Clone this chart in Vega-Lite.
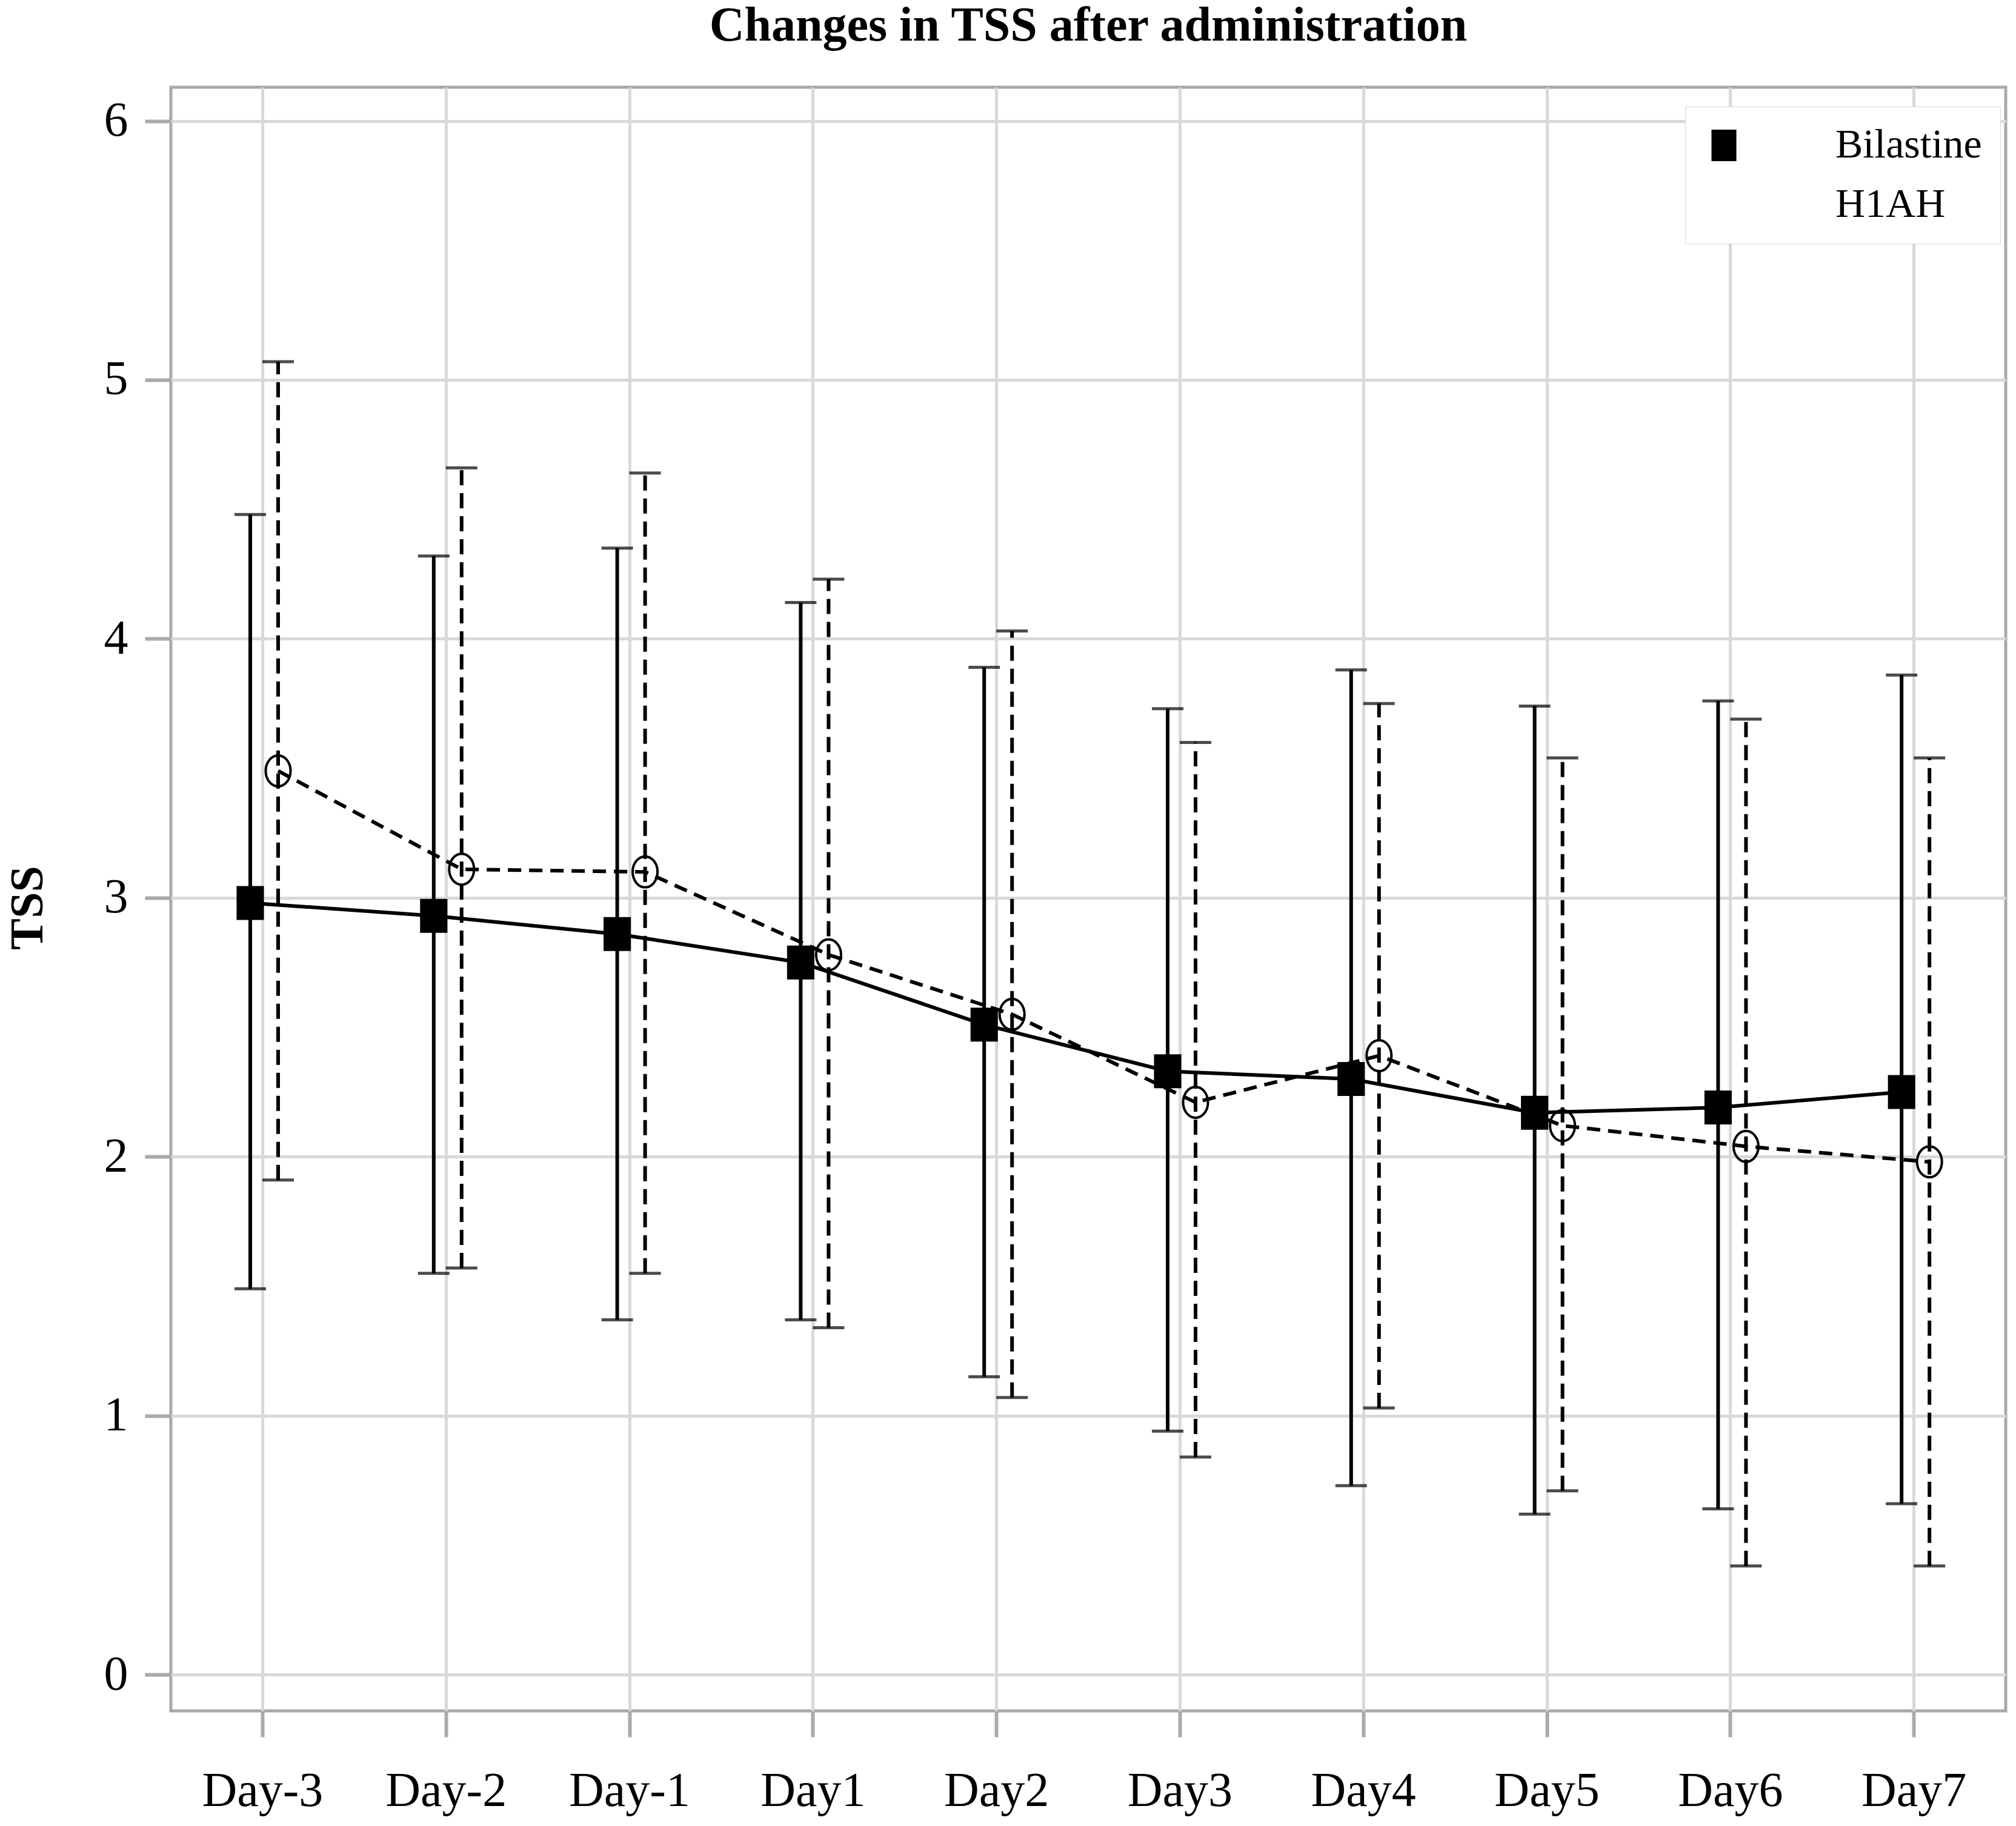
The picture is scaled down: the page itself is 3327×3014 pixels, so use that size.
{
  "$schema": "https://vega.github.io/schema/vega-lite/v6.json",
  "width": 3028,
  "height": 2680,
  "autosize": {"type": "none"},
  "padding": {"left": 282, "top": 144, "right": 17, "bottom": 190},
  "background": "white",
  "title": {
    "text": "Changes in TSS after administration",
    "font": "Liberation Serif",
    "fontSize": 80,
    "fontWeight": "bold",
    "color": "black",
    "anchor": "middle",
    "offset": 60
  },
  "data": {
    "values": [
      {"day": "Day-3", "series": "Bilastine", "mean": 2.98, "lo": 1.49, "hi": 4.48},
      {"day": "Day-2", "series": "Bilastine", "mean": 2.93, "lo": 1.55, "hi": 4.32},
      {"day": "Day-1", "series": "Bilastine", "mean": 2.86, "lo": 1.37, "hi": 4.35},
      {"day": "Day1", "series": "Bilastine", "mean": 2.75, "lo": 1.37, "hi": 4.14},
      {"day": "Day2", "series": "Bilastine", "mean": 2.51, "lo": 1.15, "hi": 3.89},
      {"day": "Day3", "series": "Bilastine", "mean": 2.33, "lo": 0.94, "hi": 3.73},
      {"day": "Day4", "series": "Bilastine", "mean": 2.30, "lo": 0.73, "hi": 3.88},
      {"day": "Day5", "series": "Bilastine", "mean": 2.17, "lo": 0.62, "hi": 3.74},
      {"day": "Day6", "series": "Bilastine", "mean": 2.19, "lo": 0.64, "hi": 3.76},
      {"day": "Day7", "series": "Bilastine", "mean": 2.25, "lo": 0.66, "hi": 3.86},
      {"day": "Day-3", "series": "H1AH", "mean": 3.49, "lo": 1.91, "hi": 5.07},
      {"day": "Day-2", "series": "H1AH", "mean": 3.11, "lo": 1.57, "hi": 4.66},
      {"day": "Day-1", "series": "H1AH", "mean": 3.10, "lo": 1.55, "hi": 4.64},
      {"day": "Day1", "series": "H1AH", "mean": 2.78, "lo": 1.34, "hi": 4.23},
      {"day": "Day2", "series": "H1AH", "mean": 2.55, "lo": 1.07, "hi": 4.03},
      {"day": "Day3", "series": "H1AH", "mean": 2.21, "lo": 0.84, "hi": 3.60},
      {"day": "Day4", "series": "H1AH", "mean": 2.39, "lo": 1.03, "hi": 3.75},
      {"day": "Day5", "series": "H1AH", "mean": 2.12, "lo": 0.71, "hi": 3.54},
      {"day": "Day6", "series": "H1AH", "mean": 2.04, "lo": 0.42, "hi": 3.69},
      {"day": "Day7", "series": "H1AH", "mean": 1.98, "lo": 0.42, "hi": 3.54}
    ]
  },
  "encoding": {
    "x": {
      "field": "day",
      "type": "ordinal",
      "sort": ["Day-3", "Day-2", "Day-1", "Day1", "Day2", "Day3", "Day4", "Day5", "Day6", "Day7"],
      "scale": {"type": "band", "paddingInner": 0, "paddingOuter": 0},
      "axis": {
        "title": null,
        "labelAngle": 0,
        "labelFont": "Liberation Serif",
        "labelFontSize": 80,
        "labelColor": "black",
        "labelLimit": 0,
        "labelPadding": 50,
        "labelBaseline": "top",
        "tickSize": 43,
        "tickWidth": 6,
        "tickColor": "#aaaaaa",
        "domain": false,
        "grid": true,
        "gridColor": "#d9d9d9",
        "gridWidth": 5
      }
    },
    "xOffset": {
      "field": "series",
      "type": "nominal",
      "scale": {"domain": ["Bilastine", "H1AH"], "range": [108, 200], "paddingInner": 0, "paddingOuter": 0}
    }
  },
  "layer": [
    {
      "transform": [{"filter": "datum.series === 'Bilastine'"}],
      "mark": {"type": "rule", "color": "black", "strokeWidth": 6},
      "encoding": {
        "y": {"field": "lo", "type": "quantitative"},
        "y2": {"field": "hi"}
      }
    },
    {
      "transform": [{"filter": "datum.series === 'H1AH'"}],
      "mark": {"type": "rule", "color": "black", "strokeWidth": 6, "strokeDash": [25, 13]},
      "encoding": {
        "y": {"field": "lo", "type": "quantitative"},
        "y2": {"field": "hi"}
      }
    },
    {
      "mark": {"type": "tick", "color": "black", "size": 52, "thickness": 5, "orient": "horizontal"},
      "encoding": {"y": {"field": "lo", "type": "quantitative"}}
    },
    {
      "mark": {"type": "tick", "color": "black", "size": 52, "thickness": 5, "orient": "horizontal"},
      "encoding": {"y": {"field": "hi", "type": "quantitative"}}
    },
    {
      "transform": [{"filter": "datum.series === 'Bilastine'"}],
      "mark": {"type": "line", "color": "black", "strokeWidth": 6},
      "encoding": {"y": {"field": "mean", "type": "quantitative"}}
    },
    {
      "transform": [{"filter": "datum.series === 'H1AH'"}],
      "mark": {"type": "line", "color": "black", "strokeWidth": 6, "strokeDash": [22, 13]},
      "encoding": {"y": {"field": "mean", "type": "quantitative"}}
    },
    {
      "mark": {"type": "point", "filled": false, "stroke": "black", "strokeWidth": 4, "size": 2704, "opacity": 1},
      "encoding": {
        "y": {
          "field": "mean",
          "type": "quantitative",
          "title": "TSS",
          "scale": {"domain": [-0.14, 6.13], "nice": false, "zero": false},
          "axis": {
            "values": [0, 1, 2, 3, 4, 5, 6],
            "format": "d",
            "labelFont": "Liberation Serif",
            "labelFontSize": 80,
            "labelColor": "black",
            "labelPadding": 28,
            "tickSize": 43,
            "tickWidth": 6,
            "tickColor": "#aaaaaa",
            "domain": false,
            "grid": true,
            "gridColor": "#d9d9d9",
            "gridWidth": 5,
            "titleFont": "Liberation Serif",
            "titleFontSize": 78,
            "titleFontWeight": "bold",
            "titleColor": "black",
            "titleX": -236,
            "titleY": 1354,
            "titleAngle": -90,
            "titleAlign": "center",
            "titleBaseline": "middle"
          }
        },
        "shape": {
          "field": "series",
          "type": "nominal",
          "scale": {
            "domain": ["Bilastine", "H1AH"],
            "range": [
              "M-0.79,-1H0.79V1H-0.79Z",
              "M0.79,0A0.79,0.98 0 1,1 -0.79,0A0.79,0.98 0 1,1 0.79,0Z"
            ]
          },
          "legend": {
            "title": null,
            "orient": "none",
            "legendX": 2499,
            "legendY": 32,
            "padding": 30,
            "fillColor": "white",
            "strokeColor": "#d9d9d9",
            "labelFont": "Liberation Serif",
            "labelFontSize": 68,
            "labelColor": "black",
            "labelLimit": 0,
            "labelOffset": 150,
            "rowPadding": 30,
            "symbolSize": 2704,
            "symbolStrokeWidth": 4,
            "symbolStrokeColor": "black"
          }
        },
        "fill": {
          "field": "series",
          "type": "nominal",
          "scale": {"domain": ["Bilastine", "H1AH"], "range": ["black", "transparent"]},
          "legend": {
            "title": null,
            "orient": "none",
            "legendX": 2499,
            "legendY": 32,
            "padding": 30,
            "fillColor": "white",
            "strokeColor": "#d9d9d9",
            "labelFont": "Liberation Serif",
            "labelFontSize": 68,
            "labelColor": "black",
            "labelLimit": 0,
            "labelOffset": 150,
            "rowPadding": 30,
            "symbolSize": 2704,
            "symbolStrokeWidth": 4,
            "symbolStrokeColor": "black"
          }
        }
      }
    }
  ],
  "config": {
    "view": {"stroke": "#a9a9a9", "strokeWidth": 5},
    "font": "Liberation Serif"
  }
}
